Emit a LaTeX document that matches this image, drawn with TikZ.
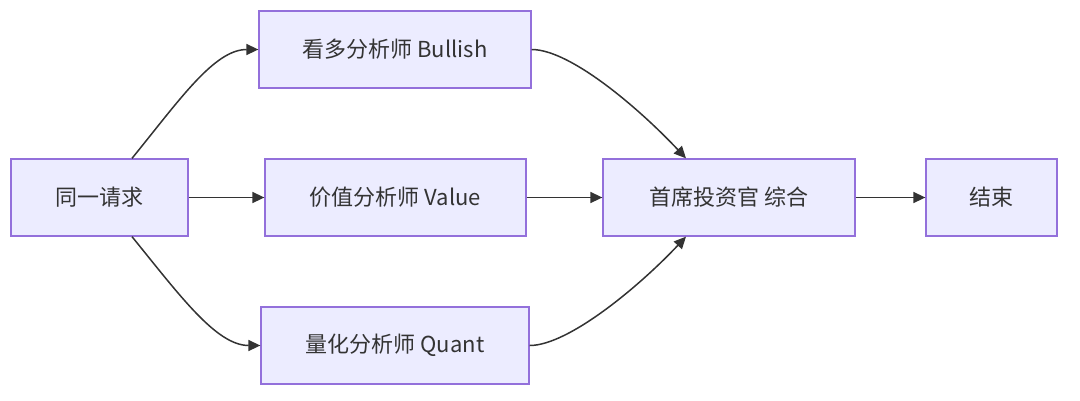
\documentclass[tikz,border=0pt]{standalone}
\usepackage{fontspec}
\setmainfont{Noto Sans CJK SC}
\usetikzlibrary{arrows.meta,calc}
\definecolor{boxfill}{HTML}{ECECFF}
\definecolor{boxline}{HTML}{9370DB}
\definecolor{edgecol}{HTML}{333333}
\tikzset{
  flowbox/.style={draw=boxline, fill=boxfill, line width=1.3pt, inner sep=0pt,
    minimum height=77pt, text=edgecol, font=\fontsize{22}{26}\selectfont},
  flowedge/.style={draw=edgecol, line width=1.5pt,
    -{Triangle[length=12pt,width=11pt]}}
}
\begin{document}
\begin{tikzpicture}[x=1pt,y=-1pt]
\useasboundingbox (0,0) rectangle (1080,400);
\node[flowbox, minimum width=177pt] (req) at (99.5,197.5) {同一请求};
\node[flowbox, minimum width=272pt] (bull) at (395,49.5) {看多分析师 Bullish};
\node[flowbox, minimum width=261pt] (val) at (395.5,197.5) {价值分析师 Value};
\node[flowbox, minimum width=268pt] (quant) at (395,345.5) {量化分析师 Quant};
\node[flowbox, minimum width=252pt] (cio) at (729,197.5) {首席投资官 综合};
\node[flowbox, minimum width=131pt] (fin) at (991.5,197.5) {结束};

\draw[flowedge] (req) -- (val);
\draw[flowedge] (val) -- (cio);
\draw[flowedge] (cio) -- (fin);
\draw[flowedge] ([xshift=32.5pt]req.north) .. controls +(48,-59) and +(-44,0) .. (bull.west);
\draw[flowedge] ([xshift=32.5pt]req.south) .. controls +(48,59) and +(-44,0) .. (quant.west);
\draw[flowedge] (bull.east) .. controls +(39,0) and +(-46,-49) .. ([xshift=-43pt]cio.north);
\draw[flowedge] (quant.east) .. controls +(39,0) and +(-46,49) .. ([xshift=-43pt]cio.south);
\end{tikzpicture}
\end{document}
